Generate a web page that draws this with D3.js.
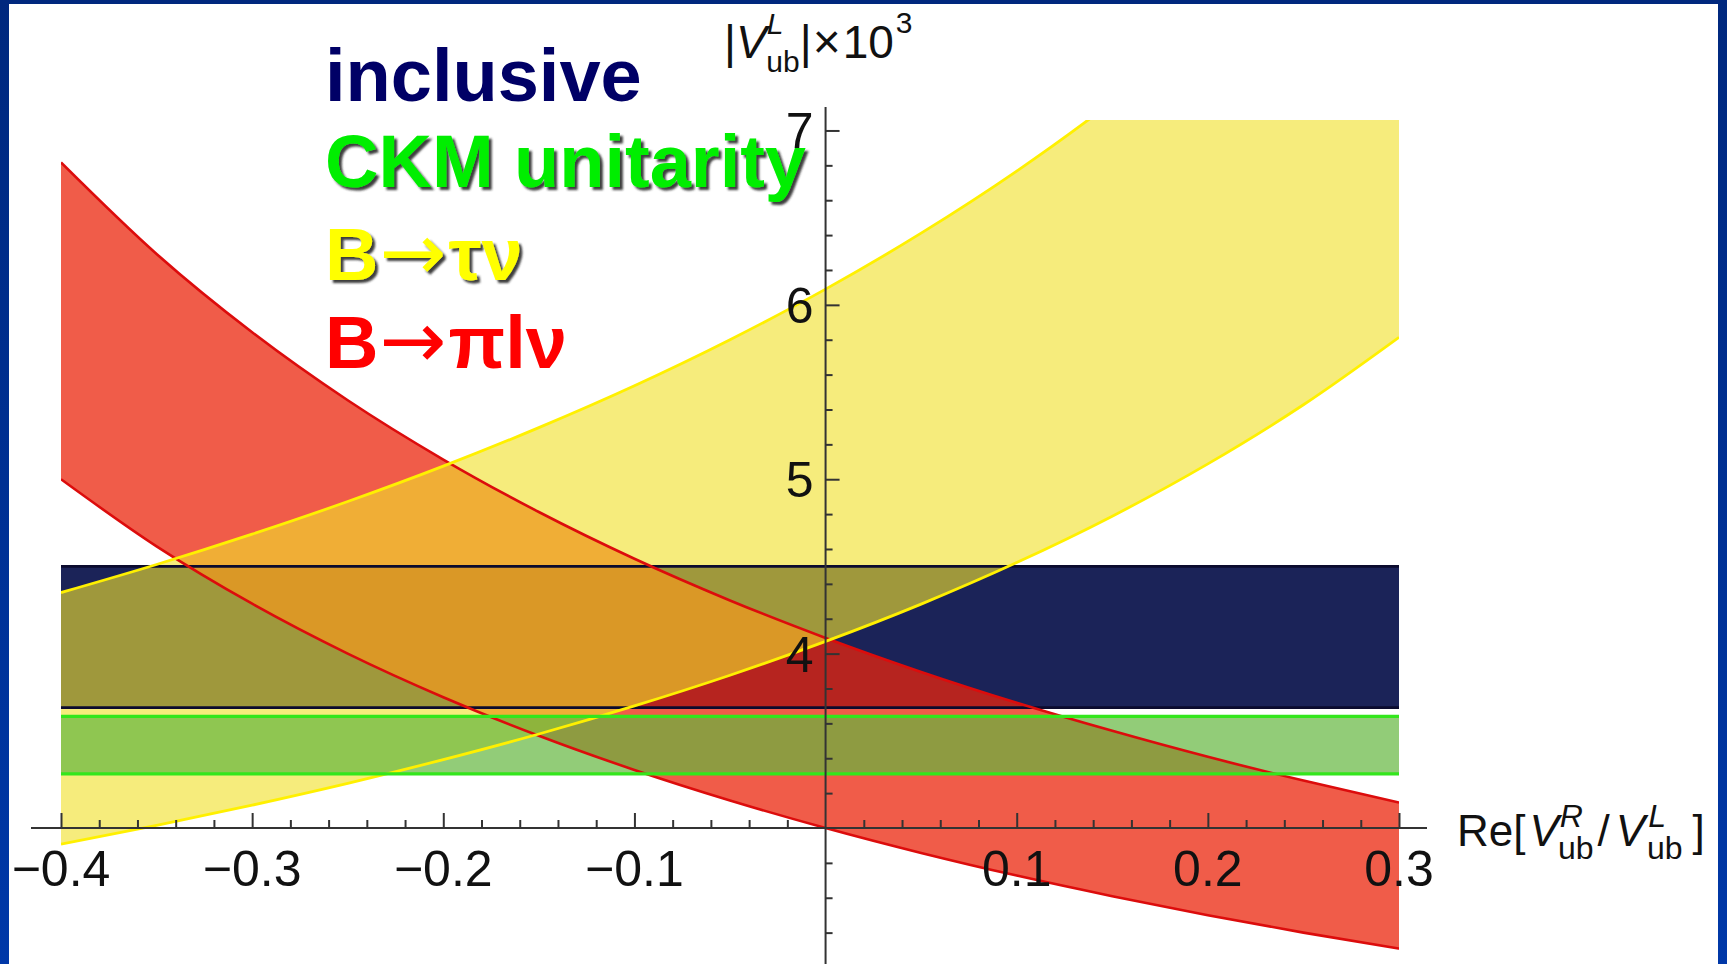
<!DOCTYPE html>
<html>
<head>
<meta charset="utf-8">
<script src="https://cdn.jsdelivr.net/npm/d3@7"></script>
<style>
html,body{margin:0;padding:0;background:#fff;}
svg{display:block;}
text{font-family:"Liberation Sans",Arial,Helvetica,sans-serif;}
</style>
</head>
<body>
<svg id="chart" width="1727" height="964"></svg>
<script>
// ---- data ----
const xValues   = [-0.40,-0.35,-0.30,-0.25,-0.20,-0.15,-0.10,-0.05,0.00,0.05,0.10,0.15,0.20,0.25,0.30];
// B -> pi l nu band (red)
const piUpper   = [6.817,6.292,5.843,5.453,5.113,4.812,4.544,4.305,4.090,3.895,3.718,3.557,3.408,3.272,3.146];
const piLower   = [5.000,4.615,4.286,4.000,3.750,3.529,3.333,3.158,3.000,2.857,2.727,2.609,2.500,2.400,2.308];
// B -> tau nu band (yellow)
const tauUpper  = [4.350,4.511,4.685,4.872,5.075,5.296,5.536,5.800,6.090,6.411,6.767,7.165,7.613,8.120,8.700];
const tauLower  = [2.907,3.015,3.131,3.256,3.392,3.539,3.700,3.876,4.070,4.284,4.522,4.788,5.088,5.427,5.814];
// horizontal bands
const inclusiveBand = [3.69, 4.50];
const ckmBand       = [3.31, 3.64];
// axes
const xMajorTicks  = [-0.4,-0.3,-0.2,-0.1,0.1,0.2,0.3];
const xTickLabels  = ["\u22120.4","\u22120.3","\u22120.2","\u22120.1","0.1","0.2","0.3"];
const yMajorTicks  = [4,5,6,7];
const yTickLabels  = ["4","5","6","7"];
// legend: [prefix, arrow, suffix]
const legendLabels = [["inclusive","",""],["CKM unitarity","",""],["B","\u2192","\u03c4\u03bd"],["B","\u2192","\u03c0l\u03bd"]];

// ---- layout ----
const svg = d3.select("#chart");
const W = 1727, H = 964;
const x = d3.scaleLinear().domain([-0.4, 0.3]).range([61, 1399]);
const y = d3.scaleLinear().domain([2.2, 7.06]).range([967.5, 120]);

const defs = svg.append("defs");
const grad = defs.append("linearGradient").attr("id","frame").attr("x1",0).attr("y1",0).attr("x2",0).attr("y2",1);
grad.append("stop").attr("offset","0%").attr("stop-color","#00287e");
grad.append("stop").attr("offset","100%").attr("stop-color","#0038a8");
svg.append("rect").attr("width",W).attr("height",H).attr("fill","#ffffff");

defs.append("clipPath").attr("id","plotclip").append("rect")
  .attr("x", x(-0.4)).attr("y", y(7.06))
  .attr("width", x(0.3)-x(-0.4)).attr("height", y(2.2)-y(7.06));

const shadow = defs.append("filter").attr("id","shadow").attr("x","-10%").attr("y","-10%").attr("width","130%").attr("height","140%");
shadow.append("feDropShadow").attr("dx",3).attr("dy",3).attr("stdDeviation",1.2).attr("flood-color","#2a2a2a").attr("flood-opacity",0.9);

const plot = svg.append("g").attr("clip-path","url(#plotclip)");

const curvePts = (lo, hi) => xValues.map((xv,i)=>({x:xv, lo:lo[i], hi:hi[i]}));
const flatPts  = (band) => [{x:-0.4, lo:band[0], hi:band[1]},{x:0.3, lo:band[0], hi:band[1]}];

const area = d3.area().x(d=>x(d.x)).y0(d=>y(d.lo)).y1(d=>y(d.hi)).curve(d3.curveMonotoneX);
const lineHi = d3.line().x(d=>x(d.x)).y(d=>y(d.hi)).curve(d3.curveMonotoneX);
const lineLo = d3.line().x(d=>x(d.x)).y(d=>y(d.lo)).curve(d3.curveMonotoneX);

const bands = [
  {pts: flatPts(inclusiveBand), fill:"#1b2358", op:1.0,  stroke:"#0b0b2e", sw:2.6},
  {pts: curvePts(piLower, piUpper), fill:"rgb(235,38,12)", op:0.75, stroke:"#dc0c0c", sw:2.6},
  {pts: curvePts(tauLower, tauUpper), fill:"rgb(240,224,44)", op:0.62, stroke:"#fff000", sw:2.8},
  {pts: flatPts(ckmBand), fill:"rgb(100,182,62)", op:0.7, stroke:"#33e61c", sw:3.2}
];

plot.selectAll("path.fill").data(bands).join("path")
  .attr("class","fill")
  .attr("d", b=>area(b.pts))
  .attr("fill", b=>b.fill)
  .attr("fill-opacity", b=>b.op);

bands.forEach(b=>{
  plot.append("path").attr("d", lineHi(b.pts)).attr("fill","none").attr("stroke",b.stroke).attr("stroke-width",b.sw);
  plot.append("path").attr("d", lineLo(b.pts)).attr("fill","none").attr("stroke",b.stroke).attr("stroke-width",b.sw);
});

// ---- axes ----
const axisColor = "#333";
const x0 = x(0), y3 = y(3);
svg.append("line").attr("x1",31).attr("x2",1427).attr("y1",y3).attr("y2",y3).attr("stroke",axisColor).attr("stroke-width",2);
svg.append("line").attr("x1",x0).attr("x2",x0).attr("y1",107).attr("y2",H).attr("stroke",axisColor).attr("stroke-width",2);

const xMinor = d3.range(-20, 16).map(i=>+(i*0.02).toFixed(2)).filter(v=>Math.abs(v*10-Math.round(v*10))>1e-6);
const gx = svg.append("g").attr("transform",`translate(0,${y3})`);
gx.call(d3.axisTop(x).tickValues(xMajorTicks).tickSize(15).tickSizeOuter(0).tickFormat(""));
gx.call(g=>g.select(".domain").remove());
const gxm = svg.append("g").attr("transform",`translate(0,${y3})`);
gxm.call(d3.axisTop(x).tickValues(xMinor).tickSize(8).tickSizeOuter(0).tickFormat(""));
gxm.call(g=>g.select(".domain").remove());

const yMinor = d3.range(11, 36).map(i=>+(i*0.2).toFixed(1)).filter(v=>Math.abs(v-Math.round(v))>1e-6);
const gy = svg.append("g").attr("transform",`translate(${x0},0)`);
gy.call(d3.axisRight(y).tickValues(yMajorTicks).tickSize(14).tickSizeOuter(0).tickFormat(""));
gy.call(g=>g.select(".domain").remove());
const gym = svg.append("g").attr("transform",`translate(${x0},0)`);
gym.call(d3.axisRight(y).tickValues(yMinor).tickSize(7).tickSizeOuter(0).tickFormat(""));
gym.call(g=>g.select(".domain").remove());
svg.selectAll(".tick line").attr("stroke",axisColor).attr("stroke-width",2);

svg.append("g").selectAll("text").data(xMajorTicks).join("text")
  .attr("x", d=>x(d)).attr("y", y3+58)
  .attr("text-anchor","middle").attr("font-size",50).attr("fill","#111")
  .text((d,i)=>xTickLabels[i]);
svg.append("g").selectAll("text").data(yMajorTicks).join("text")
  .attr("x", x0-12).attr("y", d=>y(d)+18)
  .attr("text-anchor","end").attr("font-size",50).attr("fill","#111")
  .text((d,i)=>yTickLabels[i]);

// axis titles
const yt = svg.append("text").attr("x",724).attr("y",58).attr("font-size",46).attr("fill","#111");
yt.append("tspan").text("|");
yt.append("tspan").attr("font-style","italic").text("V");
yt.append("tspan").attr("font-style","italic").attr("font-size",30).attr("dy",-24).text("L");
yt.append("tspan").attr("font-size",30).attr("dx",-17).attr("dy",38).text("ub");
yt.append("tspan").attr("dy",-14).text("|");
yt.append("tspan").attr("dx",1).attr("font-size",48).text("\u00d7");
yt.append("tspan").attr("dx",2).text("10");
yt.append("tspan").attr("font-size",30).attr("dx",2).attr("dy",-25).text("3");

const xt = svg.append("text").attr("x",1457).attr("y",846).attr("font-size",44).attr("fill","#111");
xt.append("tspan").text("Re[");
xt.append("tspan").attr("font-style","italic").attr("dx",4).text("V");
xt.append("tspan").attr("font-style","italic").attr("font-size",32).attr("dx",1).attr("dy",-19).text("R");
xt.append("tspan").attr("font-size",32).attr("dx",-25).attr("dy",32).text("ub");
xt.append("tspan").attr("dx",4).attr("dy",-13).text("/");
xt.append("tspan").attr("font-style","italic").attr("dx",6).text("V");
xt.append("tspan").attr("font-style","italic").attr("font-size",32).attr("dx",3).attr("dy",-19).text("L");
xt.append("tspan").attr("font-size",32).attr("dx",-19).attr("dy",32).text("ub");
xt.append("tspan").attr("dx",10).attr("dy",-13).text("]");

// legend
const legendColors = ["#000066","#00ee00","#ffff00","#ff0000"];
const legendBase = [101,187,280,368];
const legendShadow = [false,true,true,false];
const lg = svg.append("g").selectAll("text").data(legendLabels).join("text")
  .attr("x",325).attr("y",(d,i)=>legendBase[i])
  .attr("font-size",74).attr("font-weight","bold")
  .attr("fill",(d,i)=>legendColors[i])
  .attr("filter",(d,i)=>legendShadow[i]?"url(#shadow)":null);
lg.append("tspan").text(d=>d[0]);
lg.append("tspan").attr("font-family","'DejaVu Sans'").attr("font-weight","normal").attr("font-size",80).attr("dx",1).text(d=>d[1]);
lg.append("tspan").attr("dx",d=>d[1]?2:0).text(d=>d[2]);

// slide frame edges
svg.append("rect").attr("x",0).attr("y",0).attr("width",9).attr("height",H).attr("fill","url(#frame)");
svg.append("rect").attr("x",0).attr("y",0).attr("width",W).attr("height",4).attr("fill","#00287e");
svg.append("rect").attr("x",1718).attr("y",0).attr("width",9).attr("height",H).attr("fill","url(#frame)");
</script>
</body>
</html>
